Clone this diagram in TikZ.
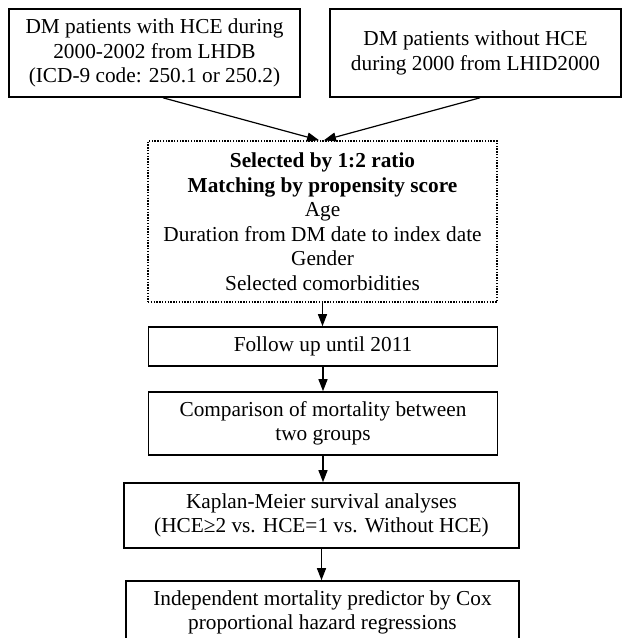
\documentclass[tikz,border=0pt]{standalone}
\usepackage{fontspec}
\setmainfont{Liberation Serif}
\usetikzlibrary{arrows.meta}
\begin{document}
\begin{tikzpicture}[x=1pt,y=-1pt,
  font=\fontsize{21.3pt}{24.5pt}\selectfont,
  box/.style={draw, line width=1.6pt, align=center, inner sep=0pt},
  dotbox/.style={box, dash pattern=on 1.4pt off 1.4pt},
  link/.style={-{Triangle[length=12pt,width=9pt]}, line width=1.2pt}]
\useasboundingbox (0,0) rectangle (624,638);
% the two sources
\node (hce) at (154.5,53) [box, minimum width=291pt, minimum height=88pt] {DM patients with HCE during\\2000-2002 from LHDB\\(ICD-9 code: 250.1 or 250.2)};
\node (nohce) at (475.5,53) [box, minimum width=291pt, minimum height=88pt] {DM patients without HCE\\during 2000 from LHID2000};
% matching
\node (match) at (322.5,221.5) [dotbox, minimum width=349pt, minimum height=161pt] {\textbf{Selected by 1:2 ratio}\\\textbf{Matching by propensity score}\\Age\\Duration from DM date to index date\\Gender\\Selected comorbidities};
% chain of steps
\node (follow) at (323,346.5) [box, minimum width=349pt, minimum height=39pt] {Follow up until 2011};
\node (comp) at (323,423.5) [box, minimum width=349pt, minimum height=63pt] {Comparison of mortality between\\two groups};
\node (km) at (321.5,515.5) [box, minimum width=395pt, minimum height=65pt] {Kaplan-Meier survival analyses\\(HCE≥2 vs. HCE=1 vs. Without HCE)};
\node (cox) at (322.5,612.5) [box, minimum width=393pt, minimum height=63pt] {Independent mortality predictor by Cox\\proportional hazard regressions};
%
\draw [link] ([xshift=8.5pt]hce.south) -- ([xshift=-3.5pt]match.north);
\draw [link] ([xshift=4.5pt]nohce.south) -- ([xshift=1.5pt]match.north);
\draw [link] (match.south) -- (match.south |- follow.north);
\draw [link] (follow.south) -- (follow.south |- comp.north);
\draw [link] (comp.south) -- (comp.south |- km.north);
\draw [link] (km.south) -- (km.south |- cox.north);
\end{tikzpicture}
\end{document}
